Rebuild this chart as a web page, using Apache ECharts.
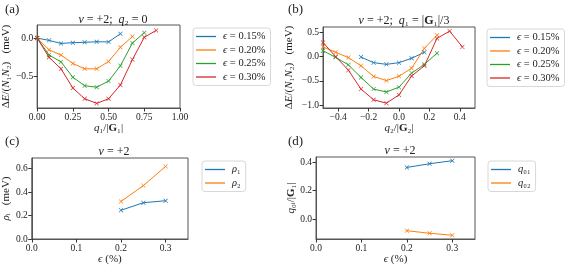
<!DOCTYPE html>
<html><head><meta charset="utf-8">
<script src="https://cdn.jsdelivr.net/npm/echarts@6/dist/echarts.min.js"></script>
<style>html,body{margin:0;padding:0;background:#fff}#c{width:565px;height:267px}</style>
</head><body><div id="c"></div>
<script>
// ---- data ----
const legendA = ['ϵ = 0.15%', 'ϵ = 0.20%', 'ϵ = 0.25%', 'ϵ = 0.30%'];
const q1_015 = [0, 0.083, 0.167, 0.25, 0.333, 0.417, 0.5, 0.583];
const dE_a015 = [0, -0.03, -0.07, -0.06, -0.055, -0.048, -0.05, 0.056];
const q1_020 = [0, 0.083, 0.167, 0.25, 0.333, 0.417, 0.5, 0.583, 0.667];
const dE_a020 = [0, -0.153, -0.22, -0.33, -0.40, -0.40, -0.305, -0.12, 0.02];
const q1_025 = [0, 0.083, 0.167, 0.25, 0.333, 0.417, 0.5, 0.583, 0.667, 0.75];
const dE_a025 = [0, -0.22, -0.31, -0.51, -0.62, -0.64, -0.56, -0.36, -0.065, 0.07];
const q1_030 = [0, 0.083, 0.167, 0.25, 0.333, 0.417, 0.5, 0.583, 0.667, 0.75, 0.833];
const dE_a030 = [0, -0.25, -0.40, -0.65, -0.79, -0.85, -0.79, -0.61, -0.28, 0.01, 0.10];

const q2_015 = [-0.25, -0.167, -0.083, 0, 0.083, 0.167];
const dE_b015 = [-0.01, -0.125, -0.16, -0.125, -0.035, 0.09];
const q2_020 = [-0.5, -0.417, -0.333, -0.25, -0.167, -0.083, 0, 0.083, 0.167, 0.25];
const dE_b020 = [0.2, 0.09, -0.02, -0.19, -0.41, -0.495, -0.405, -0.24, 0.17, 0.44];
const q2_025 = [-0.5, -0.417, -0.333, -0.25, -0.167, -0.083, 0, 0.083, 0.167, 0.25];
const dE_b025 = [0.12, -0.015, -0.17, -0.43, -0.67, -0.73, -0.63, -0.34, -0.16, 0.07];
const q2_030 = [-0.5, -0.417, -0.333, -0.25, -0.167, -0.083, 0, 0.083, 0.167, 0.25, 0.333, 0.417];
const dE_b030 = [0.29, 0.0, -0.28, -0.67, -0.89, -0.96, -0.79, -0.40, -0.19, 0.375, 0.525, 0.20];

const eps = [0.2, 0.25, 0.3];
const rho1 = [0.245, 0.309, 0.326];
const rho2 = [0.32, 0.455, 0.619];
const q01 = [0.362, 0.388, 0.409];
const q02 = [-0.08, -0.098, -0.112];

const ticksA_x = [0, 0.25, 0.5, 0.75, 1.0];
const ticksA_y = [-0.5, 0.0];
const ticksB_x = [-0.4, -0.2, 0.0, 0.2, 0.4];
const ticksB_y = [-1.0, -0.5, 0.0, 0.5];
const ticksC_x = [0.0, 0.1, 0.2, 0.3];
const ticksC_y = [0.0, 0.2, 0.4, 0.6];
const ticksD_x = [0.0, 0.1, 0.2, 0.3];
const ticksD_y = [0.0, 0.2, 0.4];

// ---- styling ----
const FF = "'Liberation Serif','DejaVu Serif',serif";
const COLORS = ['#1f77b4', '#ff7f0e', '#2ca02c', '#d62728'];
const XSYM = 'path://M0,1L1,0L5,4L9,0L10,1L6,5L10,9L9,10L5,6L1,10L0,9L4,5Z';
const NS = 11;
const rich = {
  i: {fontFamily: FF, fontStyle: 'italic', fontSize: NS, color: '#222'},
  b: {fontFamily: FF, fontWeight: 'bold', fontSize: NS, color: '#222'}
};
const fmt = (d) => (v) => (v < 0 ? '\u2212' : '') + Math.abs(v).toFixed(d);
const pairs = (xs, ys) => xs.map((x, i) => [x, ys[i]]);

function mkAxis(idx, type, min, max, ticks, dec, name, gap, rot) {
  return {
    type: 'value', gridIndex: idx, min: min, max: max,
    splitLine: {show: false},
    axisLine: {show: true, onZero: false, lineStyle: {color: '#555', width: 1}},
    axisTick: {show: true, length: 3.5, customValues: ticks, lineStyle: {color: '#333', width: 1}},
    axisLabel: {customValues: ticks, formatter: fmt(dec), fontFamily: FF, fontSize: 9.5, color: '#222', margin: 4},
    name: name, nameLocation: 'middle', nameGap: gap, nameRotate: rot,
    nameTextStyle: {fontFamily: FF, fontSize: NS, color: '#222', rich: rich}
  };
}
function mkSeries(name, xi, yi, data, color) {
  return {
    type: 'line', name: name, xAxisIndex: xi, yAxisIndex: yi, data: data,
    symbol: XSYM, symbolSize: 4.5, showSymbol: true,
    lineStyle: {color: color, width: 1},
    itemStyle: {color: color},
    animation: false, silent: true
  };
}
function mkLegend(names, left, top, fmtFn) {
  return {
    data: names, orient: 'vertical', left: left, top: top,
    icon: 'rect', itemWidth: 20, itemHeight: 1.3, itemGap: 2.5,
    padding: [3, 5, 3, 3],
    backgroundColor: 'rgba(255,255,255,0.8)', borderColor: '#d8d8d8', borderWidth: 1, borderRadius: 3,
    selectedMode: false,
    formatter: fmtFn,
    textStyle: {fontFamily: FF, fontSize: 10.5, color: '#222', lineHeight: 11, padding: [0,0,0,2], rich: {i: {fontFamily: FF, fontStyle: 'italic', fontSize: 10.5, color: '#222'}}}
  };
}
const gridStyle = {show: true, borderColor: '#555', borderWidth: 1, backgroundColor: 'transparent', containLabel: false};
const TS = 12;
const titleStyle = {fontFamily: FF, fontSize: TS, fontWeight: 'normal', color: '#222', rich: {i: {fontFamily: FF, fontStyle: 'italic', fontSize: TS, color: '#222'}, b: {fontFamily: FF, fontWeight: 'bold', fontSize: TS, color: '#222'}}};
const panelStyle = {fontFamily: FF, fontSize: 13, fontWeight: 'normal', color: '#222'};

const option = {
  animation: false,
  backgroundColor: '#fff',
  title: [
    {text: '(a)', left: 0, top: -2, textStyle: panelStyle},
    {text: '(b)', left: 283, top: -2, textStyle: panelStyle},
    {text: '(c)', left: 0, top: 130, textStyle: panelStyle},
    {text: '(d)', left: 283, top: 130, textStyle: panelStyle},
    {text: '{i|ν} = +2;  {i|q}₂ = 0', left: 108, textAlign: 'center', top: 9, textStyle: titleStyle},
    {text: '{i|ν} = +2;  {i|q}₁ = |{b|G}₁|/3', left: 399, textAlign: 'center', top: 10, textStyle: titleStyle},
    {text: '{i|ν} = +2', left: 109, textAlign: 'center', top: 141, textStyle: titleStyle},
    {text: '{i|ν} = +2', left: 395, textAlign: 'center', top: 140, textStyle: titleStyle}
  ],
  grid: [
    Object.assign({left: 37, top: 25, width: 143, height: 83}, gridStyle),
    Object.assign({left: 323, top: 27, width: 152, height: 81}, gridStyle),
    Object.assign({left: 30, top: 158, width: 158, height: 81}, gridStyle),
    Object.assign({left: 316, top: 157, width: 159, height: 82}, gridStyle)
  ],
  xAxis: [
    mkAxis(0, 'x', 0, 1, ticksA_x, 2, '{i|q}₁/|{b|G}₁|', 13, 0),
    mkAxis(1, 'x', -0.5, 0.5, ticksB_x, 1, '{i|q}₂/|{b|G}₂|', 13, 0),
    mkAxis(2, 'x', 0, 0.35, ticksC_x, 1, '{i|ϵ} (%)', 13, 0),
    mkAxis(3, 'x', 0, 0.35, ticksD_x, 1, '{i|ϵ} (%)', 13, 0)
  ],
  yAxis: [
    mkAxis(0, 'y', -0.91, 0.17, ticksA_y, 1, 'Δ{i|E}/({i|N}₁{i|N}₂)   (meV)', 25, 90),
    mkAxis(1, 'y', -1.06, 0.61, ticksB_y, 1, 'Δ{i|E}/({i|N}₁{i|N}₂)   (meV)', 28, 90),
    mkAxis(2, 'y', 0, 0.69, ticksC_y, 1, '{i|ρ}ᵢ   (meV)', 18, 90),
    mkAxis(3, 'y', -0.138, 0.435, ticksD_y, 1, '{i|q}₀ᵢ/|{b|G}₁|', 16, 90)
  ],
  legend: [
    mkLegend(legendA, 193, 28, (n) => '{i|ϵ}' + n.slice(1)),
    mkLegend(legendA, 487, 29, (n) => '{i|ϵ}' + n.slice(1)),
    mkLegend(['ρ1', 'ρ2'], 202, 161, (n) => '{i|ρ}' + (n[1] === '1' ? '₁' : '₂')),
    mkLegend(['q01', 'q02'], 488, 161, (n) => '{i|q}' + (n[2] === '1' ? '₀₁' : '₀₂'))
  ],
  series: [
    mkSeries(legendA[0], 0, 0, pairs(q1_015, dE_a015), COLORS[0]),
    mkSeries(legendA[1], 0, 0, pairs(q1_020, dE_a020), COLORS[1]),
    mkSeries(legendA[2], 0, 0, pairs(q1_025, dE_a025), COLORS[2]),
    mkSeries(legendA[3], 0, 0, pairs(q1_030, dE_a030), COLORS[3]),
    mkSeries(legendA[0], 1, 1, pairs(q2_015, dE_b015), COLORS[0]),
    mkSeries(legendA[1], 1, 1, pairs(q2_020, dE_b020), COLORS[1]),
    mkSeries(legendA[2], 1, 1, pairs(q2_025, dE_b025), COLORS[2]),
    mkSeries(legendA[3], 1, 1, pairs(q2_030, dE_b030), COLORS[3]),
    mkSeries('ρ1', 2, 2, pairs(eps, rho1), COLORS[0]),
    mkSeries('ρ2', 2, 2, pairs(eps, rho2), COLORS[1]),
    mkSeries('q01', 3, 3, pairs(eps, q01), COLORS[0]),
    mkSeries('q02', 3, 3, pairs(eps, q02), COLORS[1])
  ]
};
const chart = echarts.init(document.getElementById('c'), null, {renderer: 'canvas'});
chart.setOption(option);
</script></body></html>
